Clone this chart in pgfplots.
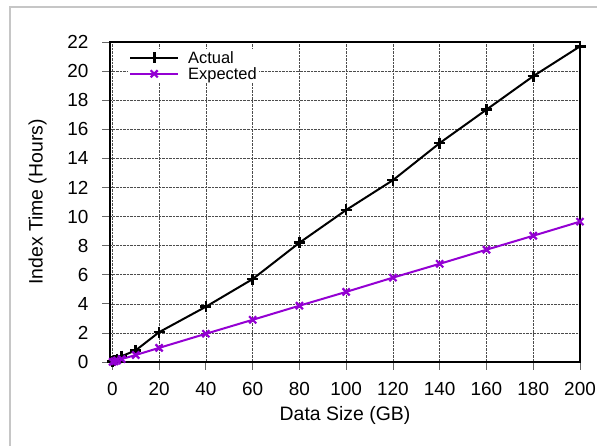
\documentclass[border=0pt]{standalone}
\usepackage{pgfplots}
\pgfplotsset{compat=1.18}
\usepackage{fontspec}
\setmainfont{Liberation Sans}
\definecolor{purp}{RGB}{148,0,211}
\begin{document}
\begin{tikzpicture}[x=1bp,y=1bp]
\useasboundingbox (0,0) rectangle (597,446);
\draw[gray!45, line width=1.2bp] (10,0) -- (10,439) -- (597,439);
\begin{axis}[
  at={(110bp,84bp)}, anchor=south west,
  width=470bp, height=320bp, scale only axis,
  xmin=-1, xmax=200, ymin=0, ymax=22,
  xtick={0,20,...,200}, ytick={0,2,...,22},
  grid=major,
  major grid style={densely dotted, black!70, line width=0.6bp},
  tick align=outside, tick pos=left,
  major tick length=8bp,
  tick style={black!60, line width=0.8bp},
  axis line style={line width=1.8bp},
  /pgf/number format/assume math mode=true,
  ticklabel style={font=\fontsize{19}{21}\selectfont},
  xticklabel style={yshift=-9bp},
  yticklabel style={xshift=-10bp},
  label style={font=\fontsize{19.5}{22}\selectfont},
  xlabel={Data Size (GB)}, ylabel={Index Time (Hours)},
  xlabel style={yshift=-4bp},
  ylabel style={yshift=14bp},
  legend style={at={(18bp,313bp)}, anchor=north west, draw=none, fill=white,
    font=\fontsize{16.5}{17}\selectfont, row sep=0.5bp, inner sep=1bp,
    nodes={inner sep=1bp},
    /tikz/every odd column/.append style={column sep=8bp}},
  legend cell align=left,
  legend image code/.code={
    \draw[#1] (0bp,0bp) -- (48bp,0bp);
    \draw[#1, mark repeat=2, mark phase=2] plot coordinates {(0bp,0bp) (24bp,0bp) (48bp,0bp)};
  },
]
\addplot[black, line width=2bp, mark=+, mark size=5.5bp, mark options={line width=2.6bp}]
coordinates {(0.1,0.02) (1,0.1) (2,0.2) (4,0.4) (10,0.8) (20,2.05) (40,3.8) (60,5.7) (80,8.2) (100,10.45) (120,12.5) (140,15.05) (160,17.35) (180,19.65) (200,21.7)};
\addlegendentry{Actual}
\addplot[purp, line width=2bp, mark=x, mark size=5bp, mark options={line width=2.2bp}]
coordinates {(0.1,0.005) (1,0.05) (2,0.1) (4,0.2) (10,0.48) (20,0.97) (40,1.94) (60,2.9) (80,3.87) (100,4.82) (120,5.8) (140,6.75) (160,7.72) (180,8.68) (200,9.65)};
\addlegendentry{Expected}
\end{axis}
\end{tikzpicture}
\end{document}
